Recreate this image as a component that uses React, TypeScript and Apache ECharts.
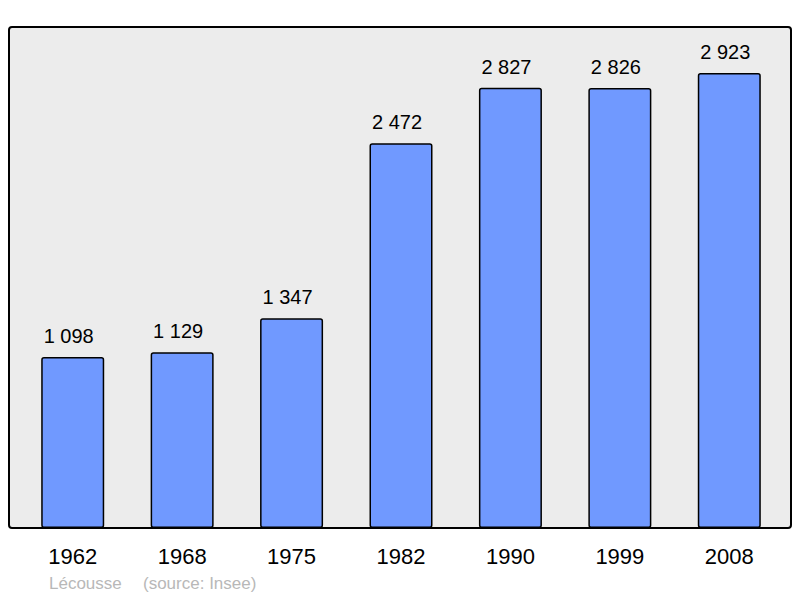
import React, { useEffect, useRef } from 'react';
import * as echarts from 'echarts';

const years = ['1962', '1968', '1975', '1982', '1990', '1999', '2008'];
const population = [1098, 1129, 1347, 2472, 2827, 2826, 2923];
const commune = 'Lécousse';
const source = '(source: Insee)';

const FONT = '"Liberation Sans", Arial, sans-serif';

// "1 098" style thousands separator
const formatPop = (v: number) => String(v).replace(/\B(?=(\d{3})+(?!\d))/g, ' ');

const App: React.FC = () => {
  const chartRef = useRef<HTMLDivElement>(null);

  useEffect(() => {
    if (!chartRef.current) return;
    const chart = echarts.init(chartRef.current, undefined, { renderer: 'svg' });

    const option = {
      animation: false,
      backgroundColor: '#ffffff',
      textStyle: { fontFamily: FONT },
      grid: { left: 18, right: 16, top: 27, bottom: 70 },
      xAxis: {
        type: 'category',
        data: years,
        axisLine: { show: false },
        axisTick: { show: false },
        axisLabel: {
          color: '#000',
          fontSize: 22,
          fontFamily: FONT,
          margin: 17,
        },
      },
      yAxis: {
        type: 'value',
        min: 0,
        max: 3218,
        show: false,
        splitLine: { show: false },
      },
      graphic: [
        {
          type: 'rect',
          z: -10,
          shape: { x: 9, y: 27, width: 782, height: 501, r: 3 },
          style: { fill: '#ececec', stroke: '#000', lineWidth: 2 },
        },
        {
          type: 'text',
          left: 49,
          top: 575,
          style: { text: commune, fill: '#b8b8b8', fontSize: 17, fontFamily: FONT },
        },
        {
          type: 'text',
          left: 143,
          top: 575,
          style: { text: source, fill: '#b8b8b8', fontSize: 17, fontFamily: FONT },
        },
      ],
      series: [
        {
          type: 'bar',
          data: population,
          barWidth: 63,
          itemStyle: {
            color: '#7099ff',
            borderColor: '#000',
            borderWidth: 1.5,
            borderRadius: 2,
          },
          label: {
            show: true,
            position: 'top',
            distance: 11,
            offset: [-4, 0],
            color: '#000',
            fontSize: 20,
            fontFamily: FONT,
            formatter: (p: any) => formatPop(p.value),
          },
        },
      ],
    };

    chart.setOption(option);
    return () => {
      chart.dispose();
    };
  }, []);

  return (
    <div
      ref={chartRef}
      style={{ position: 'absolute', left: 0, top: 0, width: '800px', height: '598px' }}
    />
  );
};

export default App;
